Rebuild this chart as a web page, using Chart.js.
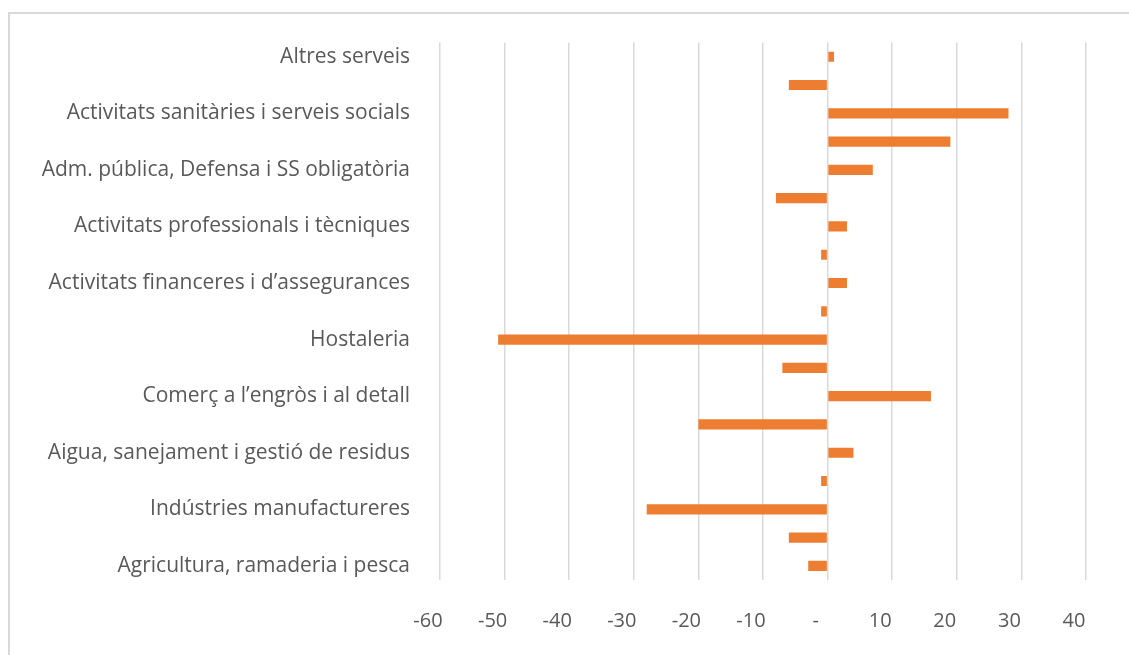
<!DOCTYPE html>
<html>
<head>
<meta charset="utf-8">
<script src="https://cdn.jsdelivr.net/npm/chart.js@4/dist/chart.umd.min.js"></script>
<style>
  html, body { margin: 0; padding: 0; background: #fff; }
  #wrap { position: relative; width: 1129px; height: 655px; overflow: hidden; }
  #frame { position: absolute; left: 8px; top: 12px; width: 1200px; height: 700px; border: 2px solid #D9D9D9; box-sizing: border-box; }
  #myChart { position: absolute; left: 0; top: 0; }
</style>
</head>
<body>
<div id="wrap">
  <div id="frame"></div>
  <canvas id="myChart" width="1129" height="655"></canvas>
</div>
<script>
// sectors, top to bottom (only every other name is shown on the axis)
const sectors = [
  'Altres serveis',
  'Activitats artístiques i recreatives',
  'Activitats sanitàries i serveis socials',
  'Educació',
  'Adm. pública, Defensa i SS obligatòria',
  'Activitats administratives i serveis auxiliars',
  'Activitats professionals i tècniques',
  'Activitats immobiliàries',
  'Activitats financeres i d’assegurances',
  'Informació i comunicacions',
  'Hostaleria',
  'Transport i emmagatzematge',
  'Comerç a l’engròs i al detall',
  'Construcció',
  'Aigua, sanejament i gestió de residus',
  'Energia elèctrica i gas',
  'Indústries manufactureres',
  'Indústries extractives',
  'Agricultura, ramaderia i pesca'
];
const change = [1, -6, 28, 19, 7, -8, 3, -1, 3, -1, -51, -7, 16, -20, 4, -1, -28, -6, -3];
const xTicks = [-60, -50, -40, -30, -20, -10, 0, 10, 20, 30, 40];

const font = "'Open Sans', Lato, sans-serif";

new Chart('myChart', {
  type: 'bar',
  data: {
    labels: sectors,
    datasets: [{
      data: change,
      backgroundColor: '#ED7D31',
      categoryPercentage: 1,
      barPercentage: 0.36
    }]
  },
  options: {
    responsive: false,
    animation: false,
    indexAxis: 'y',
    layout: { padding: { top: 41, right: 43, bottom: 0, left: 0 } },
    plugins: { legend: { display: false }, tooltip: { enabled: false } },
    scales: {
      x: {
        min: xTicks[0],
        max: xTicks[xTicks.length - 1],
        afterBuildTicks: s => { s.ticks = xTicks.map(v => ({ value: v })); },
        afterFit: s => { s.height = 75; },
        grid: { color: '#D9D9D9', lineWidth: 1.5, drawTicks: false },
        border: { display: false },
        ticks: {
          color: '#595959',
          font: { family: font, size: 20 },
          padding: 29,
          labelOffset: -12,
          callback: v => v === 0 ? '-' : v
        }
      },
      y: {
        afterFit: s => { s.width = 440; },
        grid: { display: false, drawTicks: false },
        border: { display: false },
        ticks: {
          autoSkip: false,
          color: '#595959',
          font: { family: font, size: 21 },
          padding: 30,
          callback: function (v, i) { return i % 2 === 0 ? this.getLabelForValue(v) : ''; }
        }
      }
    }
  }
});
</script>
</body>
</html>
